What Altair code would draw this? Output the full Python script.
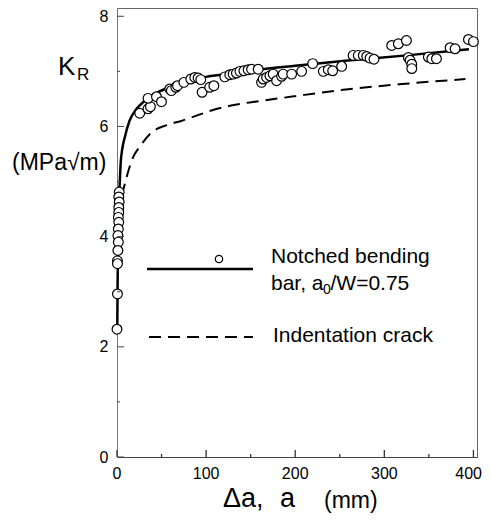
import altair as alt
import pandas as pd

# ---- data ----
# Notched bending bar measurements (Δa in mm, K_R in MPa√m)
nb_x = [2.5, 2.0, 2.5, 2.0, 2.0, 1.5, 2.0, 1.5, 1.0, 1.5, 1.0, 0.5, 0.5, 0.5, 0.0,
        25.5, 34.8, 37.5, 34.8, 44.3, 49.9, 59.2, 61.0, 66.0, 67.9, 75.0, 82.8, 87.3,
        91.0, 94.0, 95.5, 104.0, 108.7, 121.0, 126.6, 130.3, 134.0, 137.9, 142.4,
        147.2, 151.0, 158.4, 162.2, 164.0, 167.9, 171.6, 175.3, 179.1, 184.7, 186.5,
        196.0, 207.2, 219.6, 231.5, 237.1, 242.0, 252.1, 265.0, 270.8, 276.4, 280.2,
        284.0, 288.4, 308.3, 315.7, 324.8, 327.0, 328.9, 330.8, 330.8, 349.4, 353.3,
        358.5, 373.8, 379.4, 394.4, 400.0]
nb_k = [4.81, 4.72, 4.63, 4.53, 4.44, 4.35, 4.26, 4.14, 4.02, 3.90, 3.75, 3.56, 3.51, 2.96, 2.32,
        6.24, 6.32, 6.36, 6.51, 6.54, 6.45, 6.68, 6.65, 6.71, 6.74, 6.80, 6.86, 6.89,
        6.88, 6.85, 6.62, 6.71, 6.74, 6.90, 6.94, 6.95, 6.97, 7.00, 7.01,
        7.03, 7.04, 7.04, 6.80, 6.86, 6.89, 6.92, 6.95, 6.83, 6.91, 6.95,
        6.95, 7.00, 7.14, 7.00, 7.03, 7.01, 7.09, 7.29, 7.29, 7.29, 7.27,
        7.24, 7.22, 7.47, 7.50, 7.56, 7.25, 7.20, 7.13, 7.05, 7.26, 7.23,
        7.23, 7.43, 7.41, 7.58, 7.54]

# Fitted curve, notched bending bar (solid)
fit_x = [0.3, 0.6, 1.0, 1.5, 2.0, 3.0, 4.2, 6.0, 8.7, 14.0, 22.0, 30.0, 46.0, 60.0,
         80.0, 100.0, 130.0, 160.0, 200.0, 262.0, 325.0, 395.0]
fit_k = [2.3, 3.0, 3.6, 4.2, 4.6, 4.95, 5.35, 5.6, 5.8, 6.1, 6.32, 6.45, 6.62, 6.72,
         6.84, 6.9, 6.96, 7.03, 7.1, 7.2, 7.29, 7.4]

# Indentation crack curve (dashed)
ind_x = [5.0, 7.0, 9.0, 12.0, 18.0, 25.0, 38.0, 55.0, 72.0, 90.0, 106.0, 128.0,
         160.0, 200.0, 262.0, 320.0, 391.0]
ind_k = [4.75, 4.85, 4.97, 5.15, 5.44, 5.62, 5.88, 6.02, 6.1, 6.2, 6.29, 6.38,
         6.46, 6.55, 6.68, 6.77, 6.86]

x_major = [0, 100, 200, 300, 400]
x_minor = [50, 150, 250, 350]
y_major = [0, 2, 4, 6, 8]
y_minor = [1, 3, 5, 7]

# ---- chart ----
W, H = 360, 449
FONT = "Liberation Sans"
xs = alt.Scale(domain=[0, 404], nice=False, zero=False)
ys = alt.Scale(domain=[0, 8.15], nice=False, zero=False)

x_axis = alt.Axis(values=x_major, ticks=False, grid=False, title=None, labels=False,
                  domainColor="#444", domainWidth=1)
y_axis = alt.Axis(values=y_major, ticks=False, grid=False, title=None, labelFontSize=16,
                  labelPadding=9, labelColor="black", labelFont=FONT,
                  domainColor="#777", domainWidth=1)

X = lambda f: alt.X(f, scale=xs, axis=x_axis)
Y = lambda f: alt.Y(f, scale=ys, axis=y_axis)

pts = pd.DataFrame({"x": nb_x, "k": nb_k})
fit = pd.DataFrame({"x": fit_x, "k": fit_k})
ind = pd.DataFrame({"x": ind_x, "k": ind_k})

fit_line = alt.Chart(fit).mark_line(color="black", strokeWidth=2.5, interpolate="monotone").encode(
    x=X("x:Q"), y=Y("k:Q"))
ind_line = alt.Chart(ind).mark_line(color="black", strokeWidth=2, strokeDash=[12, 7],
                                    interpolate="monotone").encode(x=X("x:Q"), y=Y("k:Q"))
points = alt.Chart(pts).mark_point(shape="circle", filled=True, fill="white", stroke="black",
                                   strokeWidth=1.2, size=95, opacity=1).encode(
    x=X("x:Q"), y=Y("k:Q"))

def ytick(vals, length):
    return alt.Chart(pd.DataFrame({"k": vals})).mark_rule(color="#444", strokeWidth=1).encode(
        y=Y("k:Q"), x=alt.value(0), x2=alt.value(length))

def xtick(vals, length):
    return alt.Chart(pd.DataFrame({"x": vals})).mark_rule(color="#333", strokeWidth=1.3).encode(
        x=X("x:Q"), y=alt.value(H), y2=alt.value(H - length))

# x tick labels (last one kept inside the page edge)
xlab_df = pd.DataFrame({"x": x_major, "t": [str(v) for v in x_major]})
xlabels = alt.Chart(xlab_df).transform_filter(alt.datum.x < 400).mark_text(
    font=FONT, fontSize=16, align="center", baseline="alphabetic", color="black"
).encode(x=X("x:Q"), y=alt.value(H + 22), text="t:N")
xlabel_last = alt.Chart(xlab_df).transform_filter(alt.datum.x == 400).mark_text(
    font=FONT, fontSize=16, align="right", baseline="alphabetic", color="black", dx=8.5
).encode(x=X("x:Q"), y=alt.value(H + 22), text="t:N")

def txt(text, x, y, size, align="left"):
    return alt.Chart(pd.DataFrame({"t": [text]})).mark_text(
        font=FONT, fontSize=size, align=align, baseline="alphabetic", color="black"
    ).encode(text="t:N", x=alt.value(x), y=alt.value(y))

legend_solid = alt.Chart(pd.DataFrame({"a": [0]})).mark_rule(color="black", strokeWidth=2.5).encode(
    x=alt.value(30), x2=alt.value(136), y=alt.value(261))
legend_pt = alt.Chart(pd.DataFrame({"a": [0]})).mark_point(
    shape="circle", filled=True, fill="white", stroke="black", strokeWidth=1.2, size=55, opacity=1
).encode(x=alt.value(102), y=alt.value(251))
legend_dash = alt.Chart(pd.DataFrame({"a": [0]})).mark_rule(
    color="black", strokeWidth=2, strokeDash=[12, 7]).encode(
    x=alt.value(32), x2=alt.value(136), y=alt.value(329))

chart = alt.layer(
    ind_line, fit_line, points,
    ytick(y_major, 7), ytick(y_minor, 3), xtick(x_major, 7), xtick(x_minor, 3),
    xlabels, xlabel_last,
    legend_solid, legend_dash, legend_pt,
    txt("Notched bending", 154, 255, 21),
    txt("bar, a", 154, 282, 21),
    txt("0", 206, 286, 14),
    txt("/W=0.75", 213.5, 282, 21),
    txt("Indentation crack", 156, 334, 21),
    txt("K", -59, 67, 26),
    txt("R", -40, 71.5, 17),
    txt("(MPa\u221am)", -105, 162, 23),
    txt("\u0394a,", 106, 499, 27),
    txt("a", 163, 499, 27),
    txt("(mm)", 207, 500, 23),
).properties(
    width=W, height=H,
    padding={"left": 109, "top": 0, "right": 5, "bottom": 56},
    autosize=alt.AutoSizeParams(type="none"),
).configure_view(stroke="#666", strokeWidth=1)

chart.save("out.html", embed_options={"renderer": "svg", "actions": False})
